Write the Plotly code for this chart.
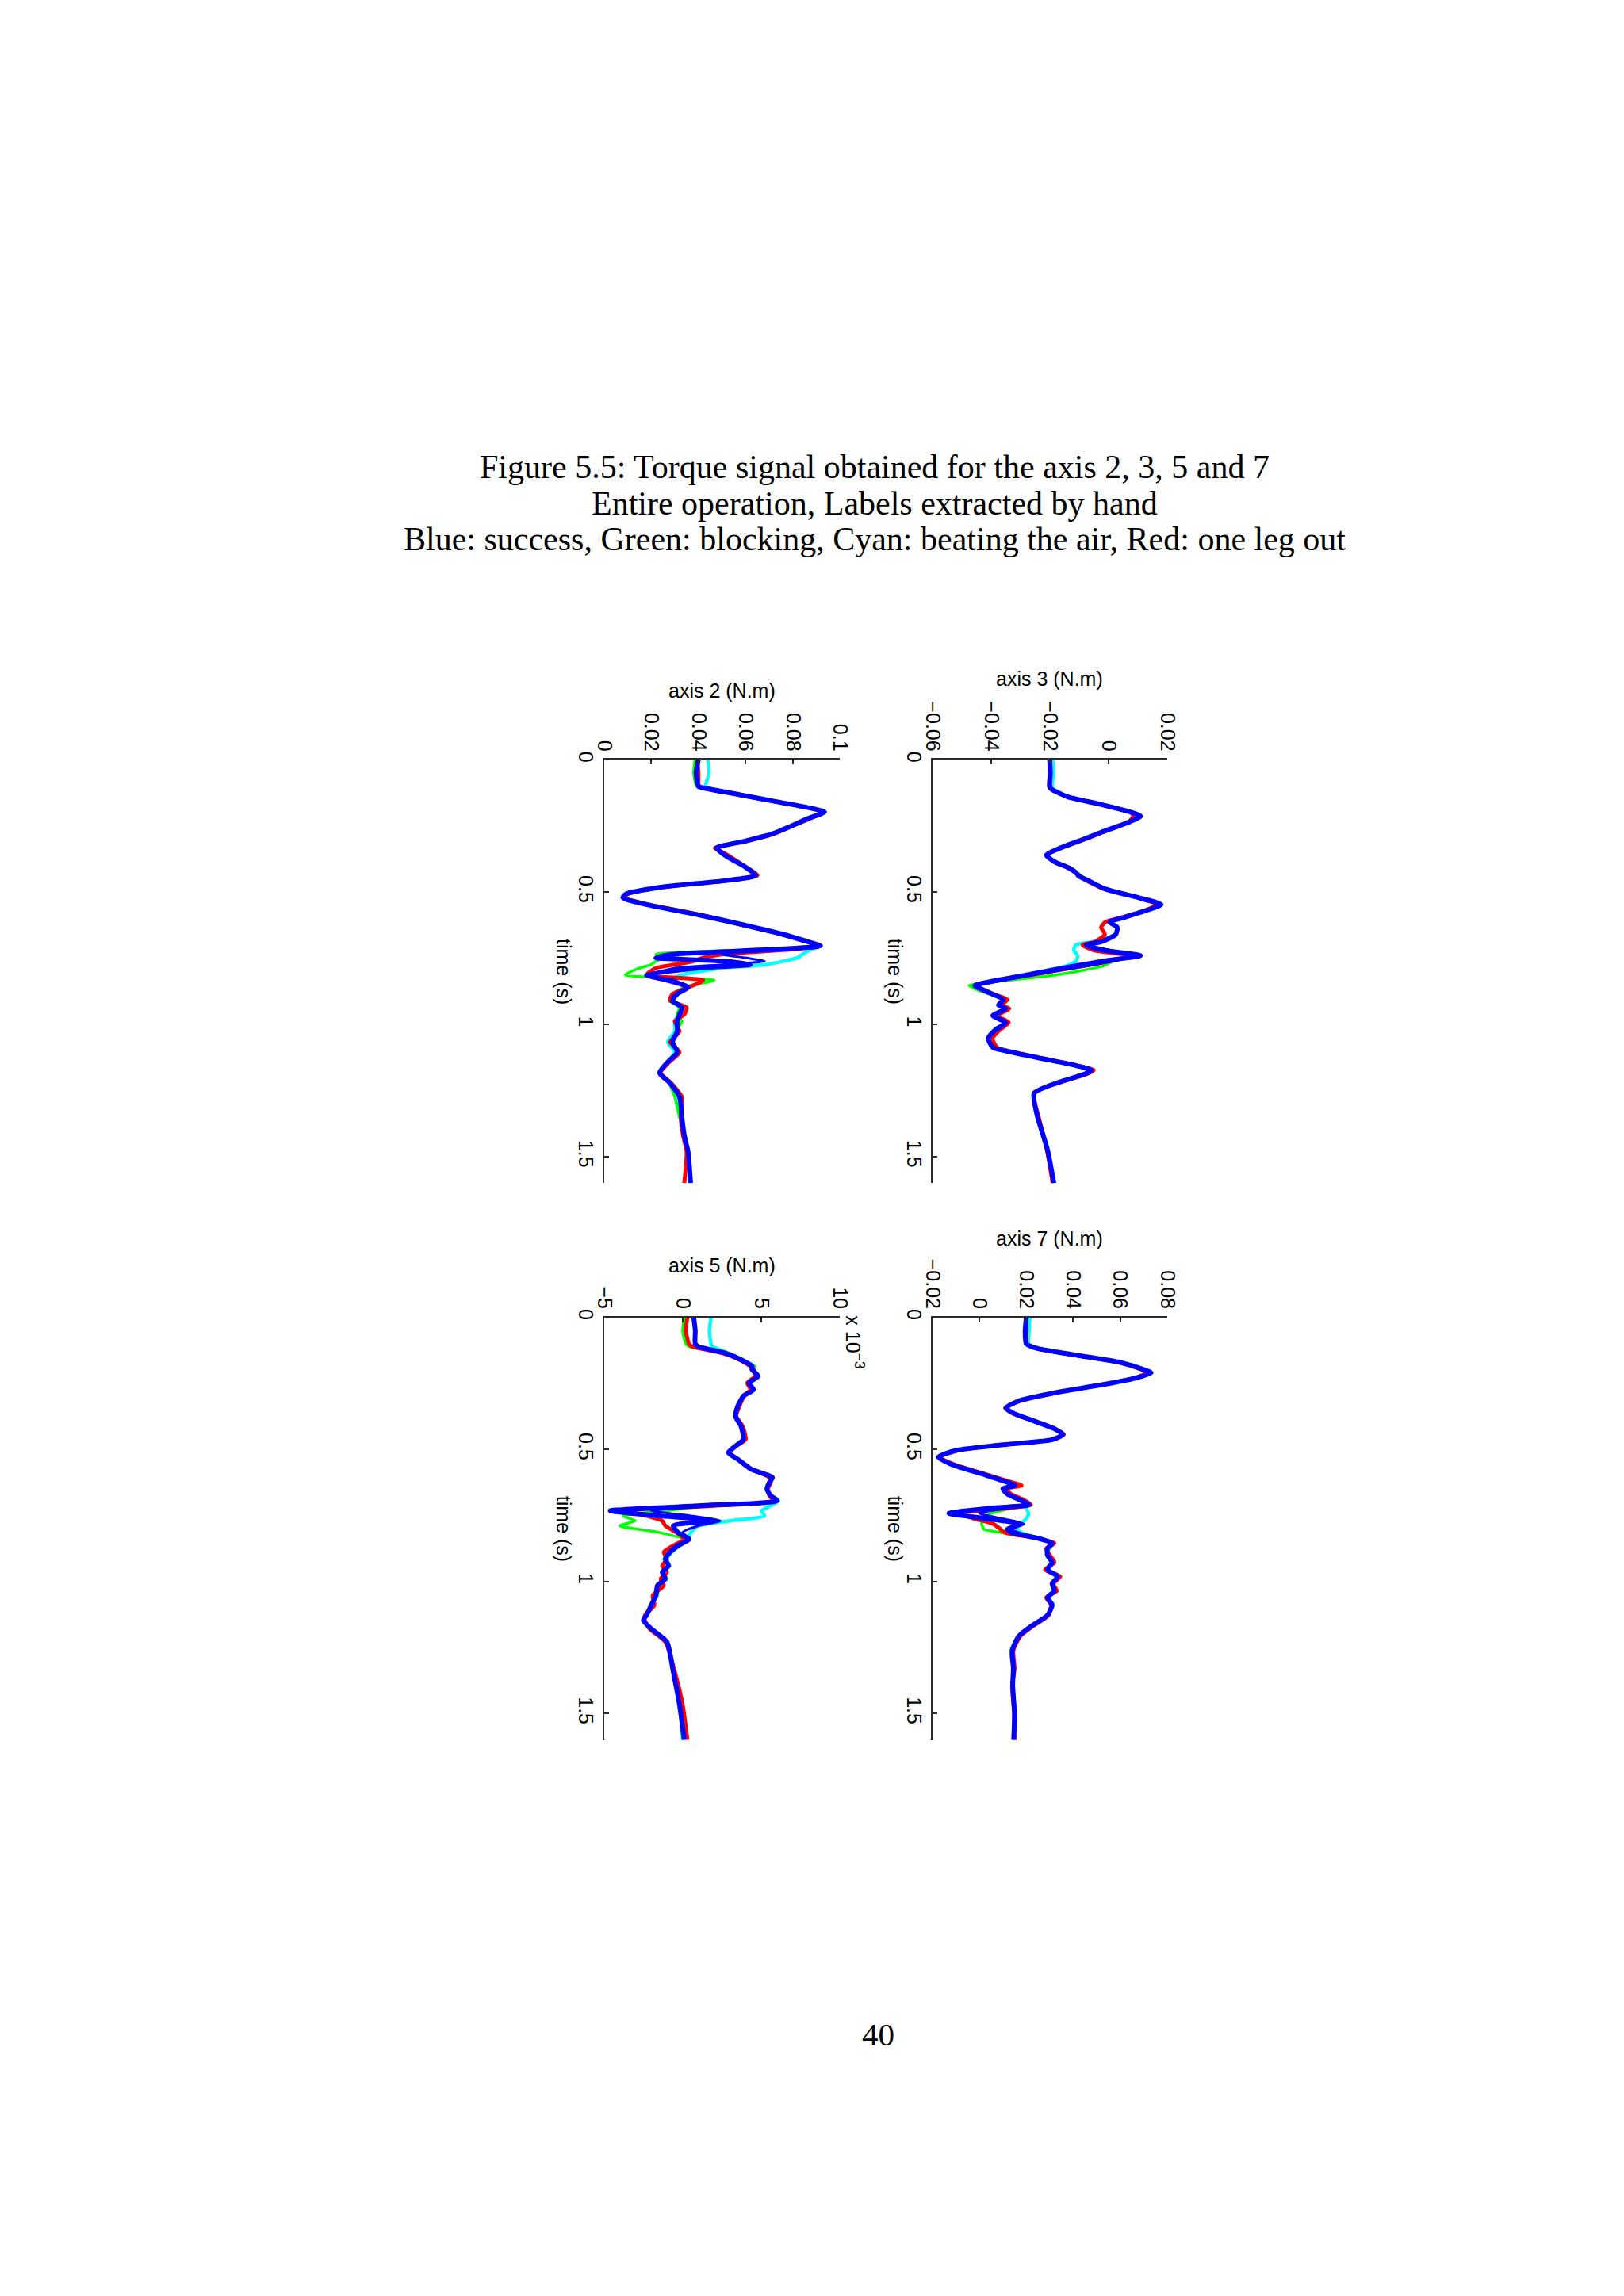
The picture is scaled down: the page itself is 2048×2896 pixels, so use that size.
import plotly.graph_objects as go

W, H = 2048, 2896

# ---------------- data ----------------
# axis 3 (N.m)
A3_T = [0, 0.05, 0.10, 0.11, 0.14, 0.167, 0.20, 0.213, 0.233, 0.273, 0.30, 0.333, 0.36, 0.387,
        0.407, 0.427, 0.44, 0.453, 0.487, 0.52, 0.547, 0.573, 0.60, 0.613, 0.633, 0.66, 0.687,
        0.70, 0.72, 0.74, 0.76, 0.78, 0.813, 0.84, 0.853, 0.873, 0.907, 0.927, 0.94, 0.967,
        0.993, 1.02, 1.053, 1.087, 1.10, 1.127, 1.153, 1.173, 1.187, 1.22, 1.26, 1.34, 1.473, 1.60]
A3_BLUE = [-0.0200, -0.0198, -0.0200, -0.0195, -0.0138, -0.0031, 0.0083, 0.0110, 0.0075, -0.0023,
           -0.0085, -0.0164, -0.0212, -0.0180, -0.0137, -0.0110, -0.0101, -0.0075, -0.0014, 0.0100,
           0.0180, 0.0119, 0.0039, 0.0004, 0.0030, 0.0025, -0.0023, -0.0076, -0.0014, 0.0110,
           -0.0014, -0.0120, -0.0279, -0.0410, -0.0456, -0.0420, -0.0359, -0.0375, -0.0350, -0.0394,
           -0.0350, -0.0385, -0.0410, -0.0394, -0.0350, -0.0235, -0.0120, -0.0058, -0.0080, -0.0173,
           -0.0253, -0.0244, -0.0208, -0.0186]
A3_RED = [-0.0202, -0.0200, -0.0203, -0.0197, -0.0140, -0.0035, 0.0078, 0.0085, 0.0070, -0.0018,
          -0.0078, -0.0160, -0.0210, -0.0183, -0.0140, -0.0112, -0.0095, -0.0080, -0.0016, 0.0098,
          0.0165, 0.0116, 0.0030, -0.0010, -0.0025, -0.0012, -0.0045, -0.0088, -0.0050, 0.0072,
          0.0010, -0.0090, -0.0265, -0.0405, -0.0450, -0.0425, -0.0345, -0.0365, -0.0338, -0.0380,
          -0.0340, -0.0370, -0.0395, -0.0380, -0.0345, -0.0230, -0.0115, -0.0050, -0.0072, -0.0168,
          -0.0255, -0.0240, -0.0210, -0.0190]
A3_GREEN = [-0.0198, -0.0196, -0.0199, -0.0195, -0.0136, -0.0030, 0.0082, 0.0100, 0.0073, -0.0022,
            -0.0083, -0.0163, -0.0211, -0.0180, -0.0137, -0.0108, -0.0090, -0.0076, -0.0014, 0.0100,
            0.0170, 0.0118, 0.0036, 0.0002, 0.0028, 0.0022, -0.0028, -0.0080, -0.0020, 0.0095,
            0.0020, -0.0020, -0.0180, -0.0400, -0.0475, -0.0440, -0.0355, -0.0372, -0.0348, -0.0390,
            -0.0348, -0.0382, -0.0405, -0.0390, -0.0350, -0.0235, -0.0120, -0.0060, -0.0080, -0.0173,
            -0.0258, -0.0243, -0.0207, -0.0188]
A3_CYAN = [-0.0190, -0.0188, -0.0192, -0.0190, -0.0135, -0.0030, 0.0082, 0.0105, 0.0074, -0.0022,
           -0.0084, -0.0163, -0.0210, -0.0181, -0.0137, -0.0108, -0.0092, -0.0076, -0.0014, 0.0100,
           0.0172, 0.0118, 0.0037, 0.0003, 0.0029, 0.0024, -0.0050, -0.0112, -0.0118, -0.0105,
           -0.0110, -0.0145, -0.0280, -0.0405, -0.0450, -0.0420, -0.0360, -0.0373, -0.0350, -0.0390,
           -0.0345, -0.0383, -0.0408, -0.0392, -0.0350, -0.0235, -0.0120, -0.0060, -0.0080, -0.0173,
           -0.0252, -0.0242, -0.0206, -0.0184]
A3_BLUE2_T = [0.687, 0.70, 0.72, 0.74, 0.76, 0.78, 0.813]
A3_BLUE2 = [-0.0023, -0.0070, 0.0010, 0.0080, 0.0020, -0.0080, -0.0260]

# axis 7 (N.m)
A7_T = [0, 0.05, 0.10, 0.117, 0.144, 0.17, 0.197, 0.21, 0.23, 0.257, 0.283, 0.316, 0.343, 0.363,
        0.396, 0.423, 0.443, 0.463, 0.483, 0.503, 0.529, 0.556, 0.596, 0.622, 0.636, 0.649, 0.669,
        0.689, 0.709, 0.722, 0.742, 0.762, 0.782, 0.802, 0.815, 0.835, 0.855, 0.875, 0.90, 0.928,
        0.955, 0.981, 1.008, 1.035, 1.061, 1.088, 1.128, 1.168, 1.207, 1.261, 1.33, 1.394, 1.50, 1.60]
A7_BLUE = [0.0200, 0.0195, 0.0200, 0.0245, 0.0422, 0.0600, 0.0700, 0.0732, 0.0665, 0.0510, 0.0334,
           0.0168, 0.0113, 0.0146, 0.0245, 0.0323, 0.0356, 0.0310, 0.0090, -0.0097, -0.0175, -0.0120,
           0.0024, 0.0113, 0.0150, 0.0100, 0.0120, 0.0168, 0.0212, 0.0050, -0.0130, 0.0035, 0.0168,
           0.0120, 0.0140, 0.0245, 0.0310, 0.0290, 0.0290, 0.0310, 0.0290, 0.0334, 0.0310, 0.0320,
           0.0290, 0.0310, 0.0290, 0.0223, 0.0168, 0.0140, 0.0145, 0.0142, 0.0150, 0.0146]
A7_RED = [0.0198, 0.0200, 0.0202, 0.0240, 0.0418, 0.0595, 0.0690, 0.0715, 0.0655, 0.0505, 0.0340,
          0.0175, 0.0110, 0.0142, 0.0242, 0.0325, 0.0360, 0.0312, 0.0092, -0.0090, -0.0170, -0.0110,
          0.0035, 0.0130, 0.0180, 0.0115, 0.0135, 0.0185, 0.0220, 0.0120, -0.0085, -0.0020, 0.0060,
          0.0090, 0.0110, 0.0240, 0.0320, 0.0285, 0.0300, 0.0320, 0.0280, 0.0345, 0.0315, 0.0330,
          0.0285, 0.0305, 0.0295, 0.0230, 0.0175, 0.0145, 0.0150, 0.0140, 0.0148, 0.0150]
A7_GREEN = [0.0202, 0.0197, 0.0201, 0.0243, 0.0420, 0.0598, 0.0698, 0.0725, 0.0662, 0.0508, 0.0335,
            0.0170, 0.0112, 0.0145, 0.0244, 0.0323, 0.0355, 0.0310, 0.0090, -0.0095, -0.0172, -0.0118,
            0.0026, 0.0115, 0.0155, 0.0102, 0.0122, 0.0170, 0.0210, 0.0140, 0.0050, 0.0010, 0.0010,
            0.0020, 0.0100, 0.0260, 0.0315, 0.0300, 0.0285, 0.0305, 0.0295, 0.0330, 0.0312, 0.0318,
            0.0295, 0.0315, 0.0288, 0.0222, 0.0168, 0.0138, 0.0143, 0.0145, 0.0152, 0.0148]
A7_CYAN = [0.0215, 0.0212, 0.0210, 0.0248, 0.0422, 0.0600, 0.0700, 0.0728, 0.0664, 0.0510, 0.0335,
           0.0170, 0.0113, 0.0146, 0.0245, 0.0323, 0.0356, 0.0310, 0.0090, -0.0096, -0.0173, -0.0119,
           0.0025, 0.0114, 0.0152, 0.0101, 0.0121, 0.0175, 0.0205, 0.0200, 0.0210, 0.0200, 0.0175,
           0.0160, 0.0180, 0.0245, 0.0312, 0.0292, 0.0290, 0.0310, 0.0290, 0.0335, 0.0310, 0.0320,
           0.0290, 0.0310, 0.0290, 0.0225, 0.0170, 0.0135, 0.0145, 0.0142, 0.0150, 0.0146]
A7_BLUE2_T = [0.689, 0.709, 0.722, 0.742, 0.762, 0.782, 0.802, 0.835]
A7_BLUE2 = [0.0168, 0.0212, 0.0120, 0.0000, 0.0100, 0.0190, 0.0140, 0.0245]

# axis 2 (N.m)
A2_T = [0, 0.05, 0.10, 0.106, 0.132, 0.158, 0.184, 0.197, 0.223, 0.249, 0.281, 0.307, 0.333, 0.353,
        0.372, 0.405, 0.437, 0.457, 0.482, 0.508, 0.521, 0.547, 0.586, 0.625, 0.658, 0.69, 0.703,
        0.716, 0.735, 0.748, 0.761, 0.774, 0.787, 0.813, 0.833, 0.859, 0.885, 0.91, 0.936, 0.962,
        0.988, 1.027, 1.066, 1.105, 1.144, 1.183, 1.222, 1.274, 1.351, 1.42, 1.481, 1.60]
A2_BLUE = [0.0400, 0.0390, 0.0400, 0.0420, 0.0576, 0.0730, 0.0884, 0.0934, 0.0860, 0.0796, 0.0708,
           0.0598, 0.0477, 0.0500, 0.0532, 0.0598, 0.0642, 0.0510, 0.0235, 0.0091, 0.0080, 0.0180,
           0.0400, 0.0598, 0.0752, 0.0873, 0.0917, 0.0730, 0.0290, 0.0220, 0.0510, 0.0620, 0.0400,
           0.0180, 0.0268, 0.0356, 0.0310, 0.0290, 0.0330, 0.0320, 0.0310, 0.0310, 0.0290, 0.0310,
           0.0268, 0.0235, 0.0280, 0.0320, 0.0330, 0.0340, 0.0356, 0.0367]
A2_RED = [0.0395, 0.0400, 0.0402, 0.0418, 0.0570, 0.0725, 0.0880, 0.0920, 0.0870, 0.0800, 0.0715,
          0.0605, 0.0470, 0.0510, 0.0545, 0.0600, 0.0650, 0.0515, 0.0240, 0.0100, 0.0090, 0.0190,
          0.0410, 0.0590, 0.0745, 0.0868, 0.0915, 0.0800, 0.0500, 0.0420, 0.0380, 0.0300, 0.0220,
          0.0180, 0.0420, 0.0360, 0.0290, 0.0280, 0.0350, 0.0340, 0.0300, 0.0320, 0.0280, 0.0320,
          0.0275, 0.0240, 0.0285, 0.0330, 0.0325, 0.0335, 0.0350, 0.0340]
A2_GREEN = [0.0385, 0.0380, 0.0392, 0.0415, 0.0572, 0.0728, 0.0880, 0.0925, 0.0862, 0.0798, 0.0708,
            0.0600, 0.0475, 0.0505, 0.0535, 0.0596, 0.0640, 0.0500, 0.0233, 0.0092, 0.0085, 0.0182,
            0.0402, 0.0596, 0.0750, 0.0872, 0.0920, 0.0700, 0.0220, 0.0250, 0.0220, 0.0200, 0.0150,
            0.0090, 0.0466, 0.0340, 0.0300, 0.0275, 0.0320, 0.0310, 0.0330, 0.0305, 0.0295, 0.0305,
            0.0265, 0.0238, 0.0275, 0.0300, 0.0320, 0.0345, 0.0355, 0.0362]
A2_CYAN = [0.0440, 0.0445, 0.0430, 0.0440, 0.0580, 0.0732, 0.0886, 0.0930, 0.0862, 0.0797, 0.0708,
           0.0598, 0.0478, 0.0500, 0.0532, 0.0598, 0.0650, 0.0512, 0.0235, 0.0095, 0.0085, 0.0182,
           0.0402, 0.0598, 0.0752, 0.0873, 0.0915, 0.0880, 0.0840, 0.0820, 0.0760, 0.0686, 0.0500,
           0.0330, 0.0280, 0.0340, 0.0300, 0.0290, 0.0320, 0.0315, 0.0300, 0.0300, 0.0270, 0.0300,
           0.0265, 0.0235, 0.0280, 0.0310, 0.0330, 0.0338, 0.0352, 0.0365]
A2_BLUE2_T = [0.69, 0.703, 0.716, 0.735, 0.748, 0.761, 0.774, 0.787, 0.813, 0.833, 0.859]
A2_BLUE2 = [0.0873, 0.0917, 0.0800, 0.0500, 0.0600, 0.0680, 0.0500, 0.0300, 0.0200, 0.0300, 0.0356]

# axis 5 (N.m), in units of 1e-3
A5_T = [0, 0.05, 0.10, 0.11, 0.135, 0.16, 0.185, 0.197, 0.223, 0.248, 0.273, 0.298, 0.336, 0.374,
        0.411, 0.462, 0.487, 0.512, 0.537, 0.575, 0.606, 0.625, 0.65, 0.675, 0.694, 0.713, 0.732,
        0.751, 0.77, 0.789, 0.814, 0.839, 0.864, 0.889, 0.915, 0.94, 0.965, 0.99, 1.015, 1.053,
        1.09, 1.128, 1.147, 1.179, 1.229, 1.342, 1.468, 1.60]
A5_BLUE = [0.7, 0.8, 0.8, 1.0, 2.7, 3.7, 4.4, 4.4, 4.8, 4.2, 4.5, 3.85, 3.5, 3.35, 3.7, 3.85, 3.35,
           2.9, 3.5, 4.35, 5.7, 5.5, 5.35, 5.6, 6.0, 1.0, -4.6, -1.5, 1.9, -0.6, -0.3, 0.4, -0.3,
           -0.8, -1.1, -0.9, -1.3, -1.1, -1.6, -1.7, -2.0, -2.3, -2.5, -2.0, -1.0, -0.6, -0.2, 0.1]
A5_RED = [0.3, 0.2, 0.4, 0.6, 2.5, 3.6, 4.3, 4.5, 4.6, 4.1, 4.3, 3.9, 3.6, 3.4, 3.8, 4.0, 3.4,
          3.0, 3.5, 4.4, 5.5, 5.6, 5.4, 5.5, 5.8, 2.0, -3.5, -2.3, -1.3, -1.1, -0.4, 0.1, -0.6,
          -1.2, -1.0, -1.3, -1.0, -1.4, -1.2, -1.9, -1.8, -2.4, -2.4, -2.1, -1.1, -0.5, 0.0, 0.3]
A5_GREEN = [0.1, 0.0, 0.2, 0.4, 2.6, 3.8, 4.6, 4.5, 4.7, 4.3, 4.4, 3.8, 3.5, 3.3, 3.7, 3.9, 3.3,
            2.9, 3.5, 4.3, 5.6, 5.5, 5.3, 5.6, 5.9, 1.5, -1.0, -3.8, -3.0, -4.0, -1.5, 0.0, -0.4,
            -0.9, -1.2, -0.8, -1.2, -1.0, -1.5, -1.6, -2.0, -2.3, -2.5, -2.0, -1.0, -0.6, -0.2, 0.0]
A5_CYAN = [1.8, 1.7, 1.8, 1.9, 2.9, 3.8, 4.4, 4.4, 4.7, 4.2, 4.4, 3.9, 3.6, 3.4, 3.7, 3.8, 3.4,
           2.9, 3.5, 4.3, 5.6, 5.5, 5.3, 5.6, 6.1, 5.6, 5.0, 5.2, 3.0, 1.0, 0.5, 0.3, -0.2,
           -0.7, -1.0, -0.9, -1.2, -1.1, -1.5, -1.7, -2.0, -2.3, -2.5, -2.0, -1.0, -0.6, -0.2, 0.0]
A5_BLUE2_T = [0.675, 0.694, 0.713, 0.732, 0.751, 0.77, 0.789, 0.814, 0.839, 0.864]
A5_BLUE2 = [5.6, 6.0, 2.0, -2.0, 0.5, 2.4, 1.0, 0.0, 0.4, -0.3]

A3_TICKS = [-0.06, -0.04, -0.02, 0, 0.02]
A3_LABELS = ["\u22120.06", "\u22120.04", "\u22120.02", "0", "0.02"]
A7_TICKS = [-0.02, 0, 0.02, 0.04, 0.06, 0.08]
A7_LABELS = ["\u22120.02", "0", "0.02", "0.04", "0.06", "0.08"]
A2_TICKS = [0, 0.02, 0.04, 0.06, 0.08, 0.1]
A2_LABELS = ["0", "0.02", "0.04", "0.06", "0.08", "0.1"]
A5_TICKS = [-5, 0, 5, 10]
A5_LABELS = ["\u22125", "0", "5", "10"]
TIME_TICKS = [0, 0.5, 1, 1.5]
TIME_LABELS = ["0", "0.5", "1", "1.5"]

CAPTION = ["Figure 5.5: Torque signal obtained for the axis 2, 3, 5 and 7",
           "Entire operation, Labels extracted by hand",
           "Blue: success, Green: blocking, Cyan: beating the air, Red: one leg out"]

# ---------------- figure ----------------
def px(x):
    return x / W

def py(y):
    return 1 - y / H

BLUE, RED, GREEN, CYAN = "#0000ff", "#ff0000", "#00ff00", "#00ffff"

panels = [
    ("axis 3 (N.m)", "", A3_T, A3_BLUE, A3_RED, A3_GREEN, A3_CYAN, A3_BLUE2_T, A3_BLUE2,
     [-0.06, 0.02], A3_TICKS, A3_LABELS, (1179, 1479), (951, 1487), 848, 1131),
    ("axis 2 (N.m)", "2", A2_T, A2_BLUE, A2_RED, A2_GREEN, A2_CYAN, A2_BLUE2_T, A2_BLUE2,
     [0, 0.1], A2_TICKS, A2_LABELS, (759, 1061), (951, 1487), 863, 707),
    ("axis 7 (N.m)", "3", A7_T, A7_BLUE, A7_RED, A7_GREEN, A7_CYAN, A7_BLUE2_T, A7_BLUE2,
     [-0.02, 0.08], A7_TICKS, A7_LABELS, (1179, 1479), (1657, 2192), 1557, 1131),
    ("axis 5 (N.m)", "4", A5_T, A5_BLUE, A5_RED, A5_GREEN, A5_CYAN, A5_BLUE2_T, A5_BLUE2,
     [-5, 10], A5_TICKS, A5_LABELS, (759, 1061), (1657, 2192), 1591, 707),
]

fig = go.Figure()
SANS = "Liberation Sans, Arial, Helvetica, sans-serif"
SERIF = "Liberation Serif, Times New Roman, serif"
AXC = "#2b2b2b"
layout = {}
annotations = []

for (title, suf, T, b, r, g, c, bt2, b2, xr, tv, tt, (x0, x1), (y0, y1), ty, tx) in panels:
    xa, ya = "x" + suf, "y" + suf
    for vals, tvals, col, wid in [(c, T, CYAN, 4.5), (g, T, GREEN, 3.5), (r, T, RED, 5),
                                  (b, T, BLUE, 6), (b2, bt2, BLUE, 3)]:
        fig.add_trace(go.Scatter(x=vals, y=tvals, mode="lines", xaxis=xa, yaxis=ya,
                                 line=dict(color=col, width=wid, shape="spline", smoothing=0.6),
                                 showlegend=False, hoverinfo="skip"))
    layout["xaxis" + suf] = dict(
        domain=[px(x0), px(x1)], range=xr, side="top", anchor=ya,
        tickmode="array", tickvals=tv, ticktext=tt, ticks="inside", ticklen=6,
        tickwidth=1.5, tickcolor=AXC, tickangle=90, showline=True, linecolor=AXC,
        linewidth=2, showgrid=False, zeroline=False,
        tickfont=dict(family=SANS, size=25, color="black"))
    layout["yaxis" + suf] = dict(
        domain=[py(y1), py(y0)], range=[1.6, 0], anchor=xa,
        tickmode="array", tickvals=TIME_TICKS, ticktext=TIME_LABELS, ticks="inside",
        ticklen=6, tickwidth=1.5, tickcolor=AXC, tickangle=90, showline=True,
        linecolor=AXC, linewidth=2, showgrid=False, zeroline=False,
        tickfont=dict(family=SANS, size=25, color="black"))
    annotations.append(dict(text=title, x=px((x0 + x1) / 2), y=py(ty), xref="paper",
                            yref="paper", showarrow=False, xanchor="center", yanchor="middle",
                            font=dict(family=SANS, size=25, color="black")))
    annotations.append(dict(text="time (s)", x=px(tx), y=py((y0 + y1) / 2),
                            xref="paper", yref="paper", showarrow=False, textangle=90,
                            xanchor="center", yanchor="middle",
                            font=dict(family=SANS, size=25, color="black")))

annotations.append(dict(text="x 10<sup>\u22123</sup>", x=px(1080), y=py(1688), xref="paper",
                        yref="paper", showarrow=False, textangle=90, xanchor="center",
                        yanchor="middle", font=dict(family=SANS, size=25, color="black")))

for i, line in enumerate(CAPTION):
    annotations.append(dict(text=line, x=px(1105), y=py(580 + 46 * i), xref="paper",
                            yref="paper", showarrow=False, xanchor="center", yanchor="middle",
                            font=dict(family=SERIF, size=42, color="black")))
annotations.append(dict(text="40", x=px(1110), y=py(2565), xref="paper", yref="paper",
                        showarrow=False, xanchor="center", yanchor="middle",
                        font=dict(family=SERIF, size=41, color="black")))

fig.update_layout(width=W, height=H, margin=dict(l=0, r=0, t=0, b=0),
                  paper_bgcolor="white", plot_bgcolor="white", annotations=annotations,
                  **layout)
fig.write_html("out.html", config={"displayModeBar": False},
               post_script="document.body.style.margin='0';document.body.style.overflow='hidden';")
